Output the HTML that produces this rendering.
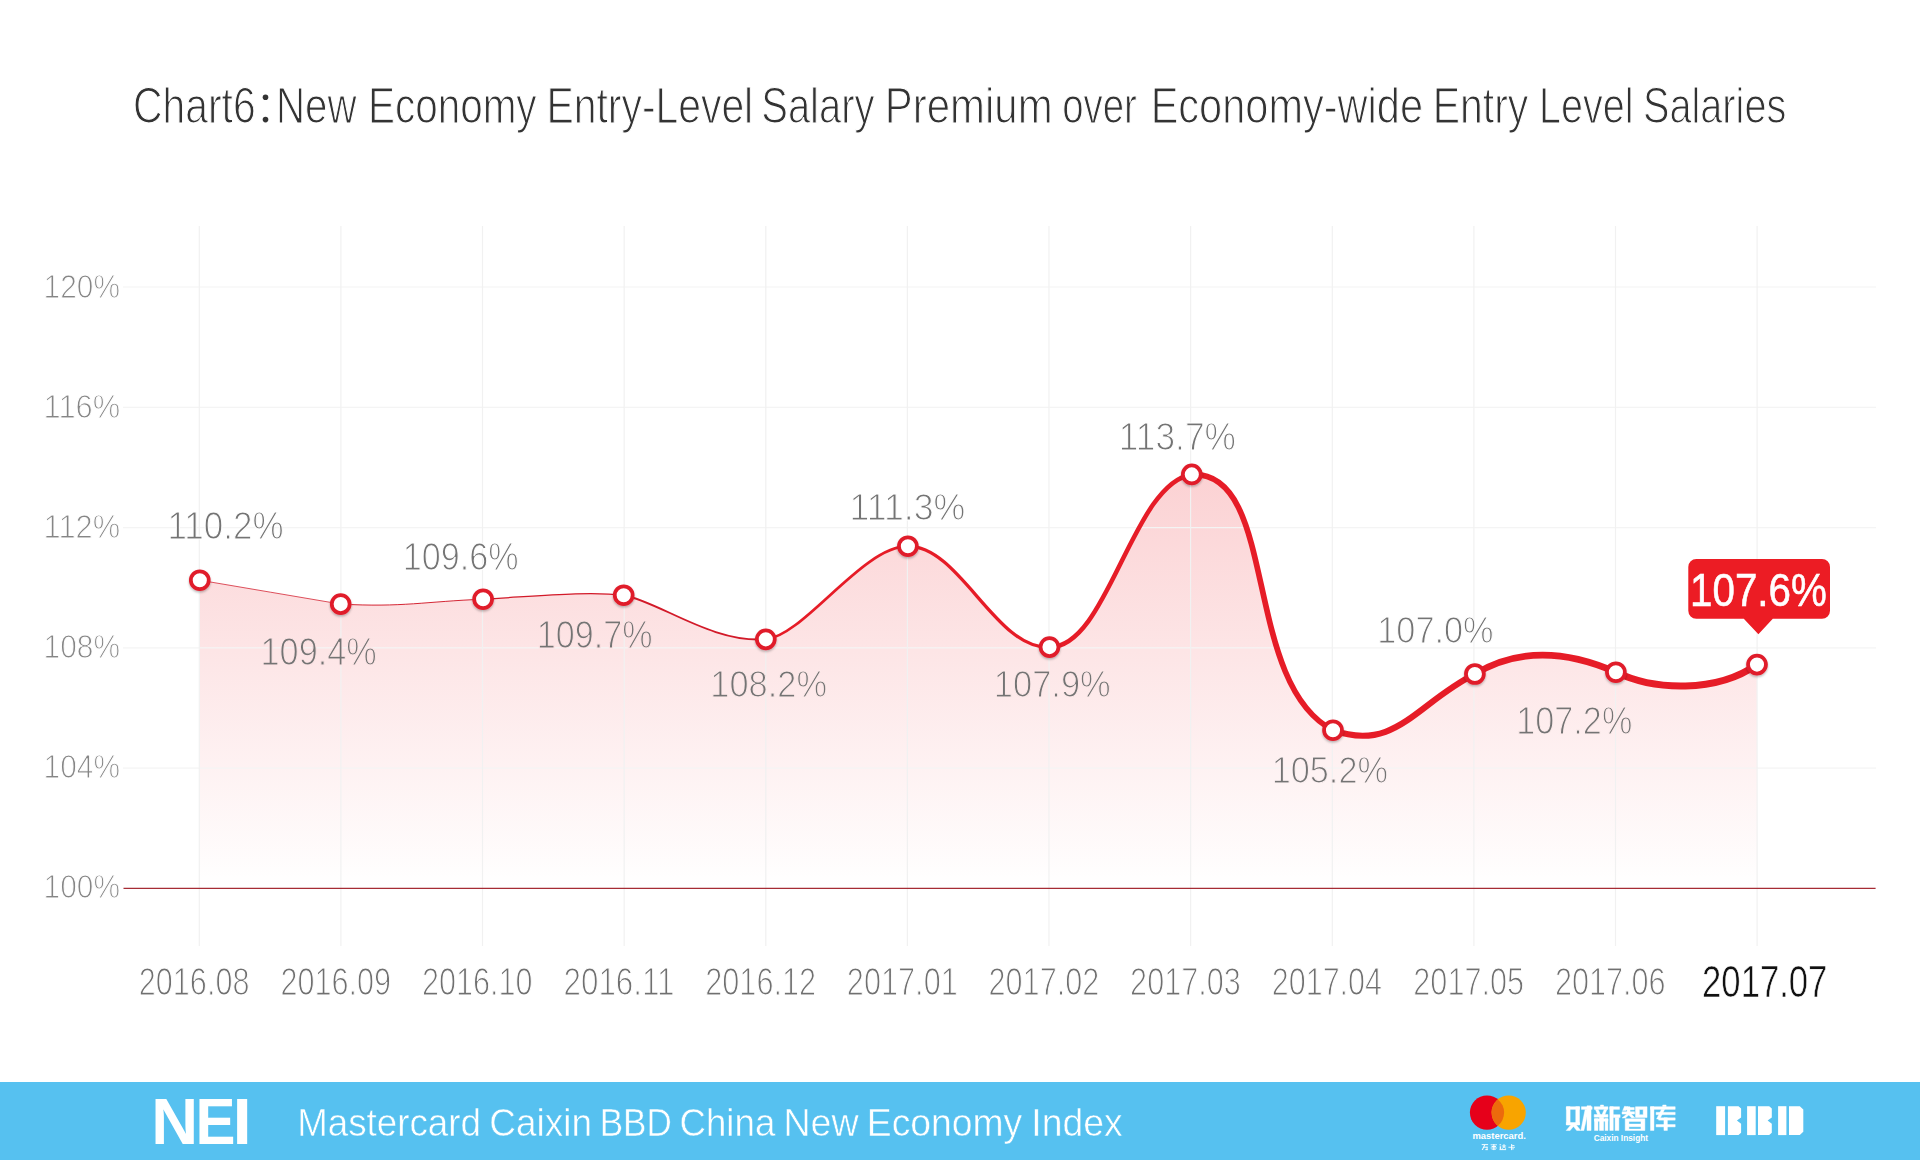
<!DOCTYPE html>
<html><head><meta charset="utf-8"><title>Chart6</title>
<style>html,body{margin:0;padding:0;background:#fff}body{width:1920px;height:1160px;overflow:hidden;position:relative}svg{display:block;position:absolute;left:0;top:0}text{font-family:"Liberation Sans",sans-serif}</style>
</head><body>
<svg width="1920" height="1160" viewBox="0 0 1920 1160">
<defs>
<linearGradient id="ag" gradientUnits="userSpaceOnUse" x1="0" y1="474" x2="0" y2="888"><stop offset="0" stop-color="#ed1c24" stop-opacity="0.2"/><stop offset="1" stop-color="#ed1c24" stop-opacity="0"/></linearGradient>
<filter id="ms" x="-50%" y="-50%" width="200%" height="200%"><feDropShadow dx="0" dy="1.5" stdDeviation="1.2" flood-color="#000" flood-opacity="0.28"/></filter>
</defs>
<rect width="1920" height="1160" fill="#fff"/>
<!--AREA-->
<path d="M199.8,888.4 L199.8,580.2 C246.8,588.2 293.7,596.1 340.7,604.1 C403.4,607.5 424.7,601.5 483.1,599.2 C536.5,596.2 587.1,590.8 623.7,595.2 C659.2,601.6 711.8,643.3 765.8,639.3 C804.2,635.6 862.4,546.2 907.9,546.2 C960.3,546.2 995.7,650.0 1049.5,647.1 C1107.8,648.3 1132.0,483.4 1191.8,474.4 C1279.3,470.9 1241.2,682.5 1333.0,730.2 C1395.4,752.7 1416.7,703.1 1474.9,674.0 C1518.6,647.8 1566.6,650.5 1615.9,672.2 C1654.0,690.5 1716.1,693.2 1757.0,664.6 L1757.0,888.4 Z" fill="url(#ag)"/>
<!--GRID-->
<g stroke="#f4f4f4" stroke-width="1.2"><line x1="123" y1="287.0" x2="1876" y2="287.0"/><line x1="123" y1="407.3" x2="1876" y2="407.3"/><line x1="123" y1="527.6" x2="1876" y2="527.6"/><line x1="123" y1="647.8" x2="1876" y2="647.8"/><line x1="123" y1="768.1" x2="1876" y2="768.1"/></g>
<g stroke="#f1f1f1" stroke-width="1.2"><line x1="199.3" y1="226" x2="199.3" y2="946"/><line x1="340.9" y1="226" x2="340.9" y2="946"/><line x1="482.5" y1="226" x2="482.5" y2="946"/><line x1="624.2" y1="226" x2="624.2" y2="946"/><line x1="765.8" y1="226" x2="765.8" y2="946"/><line x1="907.4" y1="226" x2="907.4" y2="946"/><line x1="1049.0" y1="226" x2="1049.0" y2="946"/><line x1="1190.6" y1="226" x2="1190.6" y2="946"/><line x1="1332.3" y1="226" x2="1332.3" y2="946"/><line x1="1473.9" y1="226" x2="1473.9" y2="946"/><line x1="1615.5" y1="226" x2="1615.5" y2="946"/><line x1="1757.1" y1="226" x2="1757.1" y2="946"/></g>
<line x1="123.5" y1="888.4" x2="1875.6" y2="888.4" stroke="#a62c35" stroke-width="1.15"/>
<!--CURVE-->
<g fill="none" stroke="#e61c27" stroke-linecap="round"><path d="M199.8,580.2 C246.8,588.2 293.7,596.1 340.7,604.1" stroke-width="0.75" stroke="#d21a29"/><path d="M340.7,604.1 C403.4,607.5 424.7,601.5 483.1,599.2" stroke-width="0.95" stroke="#d21a29"/><path d="M483.1,599.2 C536.5,596.2 587.1,590.8 623.7,595.2" stroke-width="1.25" stroke="#d21a29"/><path d="M623.7,595.2 C659.2,601.6 711.8,643.3 765.8,639.3" stroke-width="1.9" stroke="#d21a29"/><path d="M765.8,639.3 C804.2,635.6 862.4,546.2 907.9,546.2" stroke-width="2.7"/><path d="M907.9,546.2 C960.3,546.2 995.7,650.0 1049.5,647.1" stroke-width="3.3"/><path d="M1049.5,647.1 C1107.8,648.3 1132.0,483.4 1191.8,474.4" stroke-width="4.5"/><path d="M1191.8,474.4 C1279.3,470.9 1241.2,682.5 1333.0,730.2" stroke-width="5.7"/><path d="M1333.0,730.2 C1395.4,752.7 1416.7,703.1 1474.9,674.0" stroke-width="6.1"/><path d="M1474.9,674.0 C1518.6,647.8 1566.6,650.5 1615.9,672.2" stroke-width="6.6"/><path d="M1615.9,672.2 C1654.0,690.5 1716.1,693.2 1757.0,664.6" stroke-width="7.0"/></g>
<!--MARKERS-->
<g fill="#fff" stroke="#e01b2a" stroke-width="3.75" filter="url(#ms)"><circle cx="199.8" cy="580.2" r="8.95"/><circle cx="340.7" cy="604.1" r="8.95"/><circle cx="483.1" cy="599.2" r="8.95"/><circle cx="623.7" cy="595.2" r="8.95"/><circle cx="765.8" cy="639.3" r="8.95"/><circle cx="907.9" cy="546.2" r="8.95"/><circle cx="1049.5" cy="647.1" r="8.95"/><circle cx="1191.8" cy="474.4" r="8.95"/><circle cx="1333.0" cy="730.2" r="8.95"/><circle cx="1474.9" cy="674.0" r="8.95"/><circle cx="1615.9" cy="672.2" r="8.95"/><circle cx="1757.0" cy="664.6" r="8.95"/></g>
<!--CALLOUT-->
<path d="M1696.3,559 H1822 a8,8 0 0 1 8,8 V610.8 a8,8 0 0 1 -8,8 H1772.8 L1758.4,634.3 L1743.8,618.8 H1696.3 a8,8 0 0 1 -8,-8 V567 a8,8 0 0 1 8,-8 Z" fill="#ec1c24"/>
<!--TEXTS-->
<g opacity="0.999"><text transform="matrix(0.9333 0 0 1.0483 43.60 298.26)" font-size="32" fill="#868686" stroke="#fff" stroke-width="1.0">120%</text>
<text transform="matrix(0.9645 0 0 1.0483 43.51 418.16)" font-size="32" fill="#868686" stroke="#fff" stroke-width="1.0">116%</text>
<text transform="matrix(0.9645 0 0 1.0605 43.51 538.07)" font-size="32" fill="#868686" stroke="#fff" stroke-width="1.0">112%</text>
<text transform="matrix(0.9333 0 0 1.0483 43.60 657.96)" font-size="32" fill="#868686" stroke="#fff" stroke-width="1.0">108%</text>
<text transform="matrix(0.9333 0 0 1.0483 43.60 777.86)" font-size="32" fill="#868686" stroke="#fff" stroke-width="1.0">104%</text>
<text transform="matrix(0.9333 0 0 1.0483 43.60 897.76)" font-size="32" fill="#868686" stroke="#fff" stroke-width="1.0">100%</text>
<text transform="matrix(0.8168 0 0 1.0314 138.76 995.46)" font-size="37.5" fill="#707070" stroke="#fff" stroke-width="1.15">2016.08</text>
<text transform="matrix(0.8168 0 0 1.0314 280.38 995.46)" font-size="37.5" fill="#707070" stroke="#fff" stroke-width="1.15">2016.09</text>
<text transform="matrix(0.8153 0 0 1.0314 422.00 995.46)" font-size="37.5" fill="#707070" stroke="#fff" stroke-width="1.15">2016.10</text>
<text transform="matrix(0.8360 0 0 1.0314 563.57 995.46)" font-size="37.5" fill="#707070" stroke="#fff" stroke-width="1.15">2016.11</text>
<text transform="matrix(0.8184 0 0 1.0314 705.23 995.46)" font-size="37.5" fill="#707070" stroke="#fff" stroke-width="1.15">2016.12</text>
<text transform="matrix(0.8184 0 0 1.0314 846.85 995.46)" font-size="37.5" fill="#707070" stroke="#fff" stroke-width="1.15">2017.01</text>
<text transform="matrix(0.8184 0 0 1.0314 988.47 995.46)" font-size="37.5" fill="#707070" stroke="#fff" stroke-width="1.15">2017.02</text>
<text transform="matrix(0.8168 0 0 1.0314 1130.10 995.46)" font-size="37.5" fill="#707070" stroke="#fff" stroke-width="1.15">2017.03</text>
<text transform="matrix(0.8137 0 0 1.0314 1271.73 995.46)" font-size="37.5" fill="#707070" stroke="#fff" stroke-width="1.15">2017.04</text>
<text transform="matrix(0.8168 0 0 1.0314 1413.34 995.46)" font-size="37.5" fill="#707070" stroke="#fff" stroke-width="1.15">2017.05</text>
<text transform="matrix(0.8168 0 0 1.0314 1554.96 995.46)" font-size="37.5" fill="#707070" stroke="#fff" stroke-width="1.15">2017.06</text>
<text transform="matrix(0.8060 0 0 1.0133 1702.09 996.65)" font-size="43" fill="#111" stroke="#fff" stroke-width="0.6">2017.07</text>
<text transform="matrix(0.9464 0 0 1.0416 167.39 538.56)" font-size="37" fill="#747474" stroke="#fff" stroke-width="1.1">110.2%</text>
<text transform="matrix(0.9267 0 0 1.0376 260.56 664.76)" font-size="37" fill="#747474" stroke="#fde5e6" stroke-width="1.1">109.4%</text>
<text transform="matrix(0.9233 0 0 1.0257 402.67 569.76)" font-size="37" fill="#747474" stroke="#fff" stroke-width="1.1">109.6%</text>
<text transform="matrix(0.9225 0 0 1.0297 536.77 648.26)" font-size="37" fill="#747474" stroke="#fde3e4" stroke-width="1.1">109.7%</text>
<text transform="matrix(0.9300 0 0 1.0178 710.35 696.85)" font-size="37" fill="#747474" stroke="#fde9e9" stroke-width="1.1">108.2%</text>
<text transform="matrix(0.9647 0 0 1.0099 849.52 520.25)" font-size="37" fill="#747474" stroke="#fff" stroke-width="1.1">111.3%</text>
<text transform="matrix(0.9317 0 0 1.0178 993.84 696.85)" font-size="37" fill="#747474" stroke="#fde9e9" stroke-width="1.1">107.9%</text>
<text transform="matrix(0.9540 0 0 1.0257 1118.86 450.26)" font-size="37" fill="#747474" stroke="#fff" stroke-width="1.1">113.7%</text>
<text transform="matrix(0.9267 0 0 1.0218 1271.66 783.26)" font-size="37" fill="#747474" stroke="#fef2f3" stroke-width="1.1">105.2%</text>
<text transform="matrix(0.9267 0 0 1.0218 1377.26 643.16)" font-size="37" fill="#747474" stroke="#fff" stroke-width="1.1">107.0%</text>
<text transform="matrix(0.9250 0 0 1.0257 1516.26 734.36)" font-size="37" fill="#747474" stroke="#feeded" stroke-width="1.1">107.2%</text>
<text transform="matrix(0.8407 0 0 0.9706 1690.05 605.91)" font-size="48" fill="#fff" stroke="#fff" stroke-width="0.6">107.6%</text>
<text transform="matrix(0.8437 0 0 1.0341 133.07 122.62)" font-size="48.4" fill="#333" stroke="#fff" stroke-width="1.15">Chart6</text>
<text transform="matrix(0.8317 0 0 1.0341 275.96 122.62)" font-size="48.4" fill="#333" stroke="#fff" stroke-width="1.15">New</text>
<text transform="matrix(0.8362 0 0 1.0341 367.94 122.62)" font-size="48.4" fill="#333" stroke="#fff" stroke-width="1.15">Economy</text>
<text transform="matrix(0.8444 0 0 1.0341 546.50 122.62)" font-size="48.4" fill="#333" stroke="#fff" stroke-width="1.15">Entry-Level</text>
<text transform="matrix(0.8255 0 0 1.0341 761.27 122.62)" font-size="48.4" fill="#333" stroke="#fff" stroke-width="1.15">Salary</text>
<text transform="matrix(0.8664 0 0 1.0341 884.85 122.62)" font-size="48.4" fill="#333" stroke="#fff" stroke-width="1.15">Premium</text>
<text transform="matrix(0.7922 0 0 1.0341 1062.27 122.62)" font-size="48.4" fill="#333" stroke="#fff" stroke-width="1.15">over</text>
<text transform="matrix(0.8583 0 0 1.0341 1150.64 122.62)" font-size="48.4" fill="#333" stroke="#fff" stroke-width="1.15">Economy-wide</text>
<text transform="matrix(0.8465 0 0 1.0341 1432.69 122.62)" font-size="48.4" fill="#333" stroke="#fff" stroke-width="1.15">Entry</text>
<text transform="matrix(0.8159 0 0 1.0341 1539.03 122.62)" font-size="48.4" fill="#333" stroke="#fff" stroke-width="1.15">Level</text>
<text transform="matrix(0.8201 0 0 1.0341 1642.94 122.62)" font-size="48.4" fill="#333" stroke="#fff" stroke-width="1.15">Salaries</text></g>
<g fill="#333"><circle cx="265.5" cy="97.3" r="2.8"/><circle cx="265.5" cy="119.6" r="2.8"/></g>
<!--FOOTER-->
<rect x="0" y="1082" width="1920" height="78" fill="#56c1f0"/>
<g opacity="0.999"><text transform="matrix(0.9721 0 0 1.0297 297.24 1135.86)" font-size="37.8" fill="#fff" stroke="#56c1f0" stroke-width="0.5">Mastercard</text>
<text transform="matrix(0.9780 0 0 1.0297 489.30 1135.86)" font-size="37.8" fill="#fff" stroke="#56c1f0" stroke-width="0.5">Caixin</text>
<text transform="matrix(0.9283 0 0 1.0297 599.68 1135.86)" font-size="37.8" fill="#fff" stroke="#56c1f0" stroke-width="0.5">BBD</text>
<text transform="matrix(0.9694 0 0 1.0297 679.52 1135.86)" font-size="37.8" fill="#fff" stroke="#56c1f0" stroke-width="0.5">China</text>
<text transform="matrix(0.9944 0 0 1.0297 783.47 1135.86)" font-size="37.8" fill="#fff" stroke="#56c1f0" stroke-width="0.5">New</text>
<text transform="matrix(0.9867 0 0 1.0297 866.79 1135.86)" font-size="37.8" fill="#fff" stroke="#56c1f0" stroke-width="0.5">Economy</text>
<text transform="matrix(0.9880 0 0 1.0297 1031.29 1135.86)" font-size="37.8" fill="#fff" stroke="#56c1f0" stroke-width="0.5">Index</text>
<text transform="matrix(1.0228 0 0 1.0080 151.35 1144.00)" font-size="63.5" font-weight="700" fill="#fff">N</text>
<text transform="matrix(0.9437 0 0 1.0080 195.59 1144.00)" font-size="63.5" font-weight="700" fill="#fff">E</text>
<text transform="matrix(1.0919 0 0 1.0080 232.56 1144.00)" font-size="63.5" font-weight="700" fill="#fff">I</text></g>
<!--LOGOS-->
<circle cx="1487" cy="1112.6" r="17.1" fill="#e6001a"/>
<circle cx="1508.7" cy="1112.6" r="17.1" fill="#f8a400"/>
<path d="M1497.85,1099.38 A17.1,17.1 0 0 1 1497.85,1125.82 A17.1,17.1 0 0 1 1497.85,1099.38 Z" fill="#ec6a0c"/>
<text transform="matrix(0.2488 0 0 0.2429 1472.38 1138.88)" font-size="38.0" font-weight="700" fill="#fff">mastercard.</text>
<text transform="matrix(0.2209 0 0 0.2524 1593.67 1141.00)" font-size="37.6" font-weight="700" fill="#fff">Caixin Insight</text>
<g fill="#fff" fill-opacity="0.95"><rect x="1481.70" y="1144.10" width="6.40" height="1.00"/><polygon points="1484.10,1145.10 1485.20,1145.10 1482.90,1150.10 1481.70,1150.10"/><rect x="1483.90" y="1146.70" width="3.60" height="1.00"/><rect x="1486.60" y="1146.70" width="1.00" height="3.40"/><rect x="1485.30" y="1149.10" width="2.30" height="1.00"/><rect x="1490.60" y="1144.40" width="6.40" height="0.80"/><rect x="1491.60" y="1145.90" width="4.40" height="1.20"/><rect x="1490.60" y="1147.60" width="6.40" height="0.80"/><rect x="1491.60" y="1148.90" width="4.40" height="0.70"/><rect x="1493.30" y="1144.10" width="1.10" height="6.00"/><rect x="1499.50" y="1144.30" width="1.60" height="1.00"/><rect x="1499.70" y="1146.30" width="1.40" height="2.80"/><rect x="1499.50" y="1149.10" width="6.60" height="1.00"/><rect x="1501.90" y="1145.50" width="4.20" height="0.90"/><rect x="1503.50" y="1144.10" width="1.00" height="3.00"/><polygon points="1503.50,1146.40 1504.50,1146.40 1502.70,1148.70 1501.70,1148.70"/><polygon points="1503.90,1146.90 1504.70,1146.40 1506.30,1148.70 1505.30,1148.70"/><rect x="1511.10" y="1144.10" width="1.10" height="6.00"/><rect x="1512.20" y="1145.10" width="2.20" height="0.90"/><rect x="1508.40" y="1146.80" width="6.60" height="0.90"/><rect x="1512.20" y="1148.50" width="1.80" height="0.80"/></g>
<g fill="#fff" stroke="#fff" stroke-width="0.45" stroke-linejoin="round"><rect x="1566.38" y="1106.72" width="3.75" height="17.97"/><rect x="1566.38" y="1106.72" width="13.12" height="2.66"/><rect x="1575.75" y="1106.72" width="3.75" height="17.97"/><rect x="1566.38" y="1122.50" width="13.12" height="2.50"/><polygon points="1571.06,1124.69 1574.81,1124.69 1570.12,1130.47 1566.22,1130.47"/><polygon points="1572.31,1125.00 1576.06,1124.69 1580.75,1130.47 1576.69,1130.47"/><rect x="1587.00" y="1105.78" width="4.06" height="24.69"/><rect x="1581.38" y="1106.72" width="10.78" height="2.66"/><polygon points="1585.12,1109.38 1588.56,1109.38 1583.88,1130.47 1580.91,1130.47"/><rect x="1600.44" y="1105.00" width="3.12" height="1.72"/><rect x="1594.19" y="1106.72" width="13.75" height="2.66"/><polygon points="1595.44,1109.38 1598.25,1109.38 1600.44,1114.69 1597.62,1114.69"/><polygon points="1604.19,1109.38 1607.00,1109.38 1604.81,1114.69 1602.00,1114.69"/><rect x="1594.19" y="1114.53" width="13.75" height="2.66"/><rect x="1594.50" y="1118.75" width="13.44" height="2.50"/><rect x="1594.50" y="1118.75" width="3.44" height="11.72"/><rect x="1599.50" y="1117.19" width="4.06" height="13.28"/><rect x="1605.12" y="1118.75" width="2.81" height="11.72"/><rect x="1609.81" y="1106.72" width="9.69" height="2.66"/><rect x="1609.81" y="1106.72" width="3.44" height="23.75"/><rect x="1613.25" y="1114.69" width="6.88" height="2.81"/><rect x="1615.12" y="1117.50" width="3.75" height="12.97"/><polygon points="1624.56,1106.25 1627.69,1106.72 1625.81,1110.62 1622.69,1110.62"/><rect x="1624.56" y="1107.50" width="9.69" height="2.34"/><rect x="1622.06" y="1111.72" width="12.50" height="2.34"/><rect x="1627.06" y="1106.72" width="2.97" height="7.34"/><polygon points="1627.06,1113.75 1630.03,1113.75 1625.50,1117.97 1622.06,1117.97"/><polygon points="1627.38,1113.75 1630.19,1113.12 1634.72,1117.50 1631.75,1117.97"/><path fill-rule="evenodd" d="M1635.50,1106.72 H1647.06 V1117.50 H1635.50 Z M1639.41,1109.53 H1643.16 V1114.69 H1639.41 Z"/><path fill-rule="evenodd" d="M1625.19,1118.75 H1644.88 V1130.47 H1625.19 Z M1628.94,1121.41 H1640.97 V1124.06 H1628.94 Z M1628.94,1126.72 H1640.97 V1129.06 H1628.94 Z"/><rect x="1662.69" y="1105.00" width="3.44" height="1.72"/><rect x="1650.50" y="1106.72" width="24.69" height="2.66"/><rect x="1650.50" y="1106.72" width="3.44" height="23.75"/><rect x="1656.12" y="1112.34" width="19.06" height="2.34"/><polygon points="1661.44,1109.38 1664.56,1109.38 1659.88,1119.06 1656.59,1119.06"/><rect x="1658.62" y="1117.81" width="16.56" height="2.34"/><rect x="1656.12" y="1124.53" width="19.06" height="2.34"/><rect x="1663.94" y="1117.81" width="3.44" height="12.66"/></g>
<g fill="#fff"><rect x="1716.20" y="1106.20" width="8.90" height="28.90"/><polygon points="1727.90,1106.20 1738.50,1106.20 1741.10,1108.60 1741.10,1117.40 1736.90,1120.60 1741.10,1123.80 1741.10,1132.70 1738.50,1135.10 1727.90,1135.10"/><rect x="1747.10" y="1106.20" width="8.60" height="28.90"/><polygon points="1758.00,1106.20 1769.20,1106.20 1771.80,1108.60 1771.80,1117.40 1767.60,1120.60 1771.80,1123.80 1771.80,1132.70 1769.20,1135.10 1758.00,1135.10"/><rect x="1778.10" y="1106.20" width="8.30" height="28.90"/><polygon points="1789.00,1106.20 1799.80,1106.20 1803.30,1109.60 1803.30,1131.70 1799.80,1135.10 1789.00,1135.10"/></g>
</svg>
</body></html>
